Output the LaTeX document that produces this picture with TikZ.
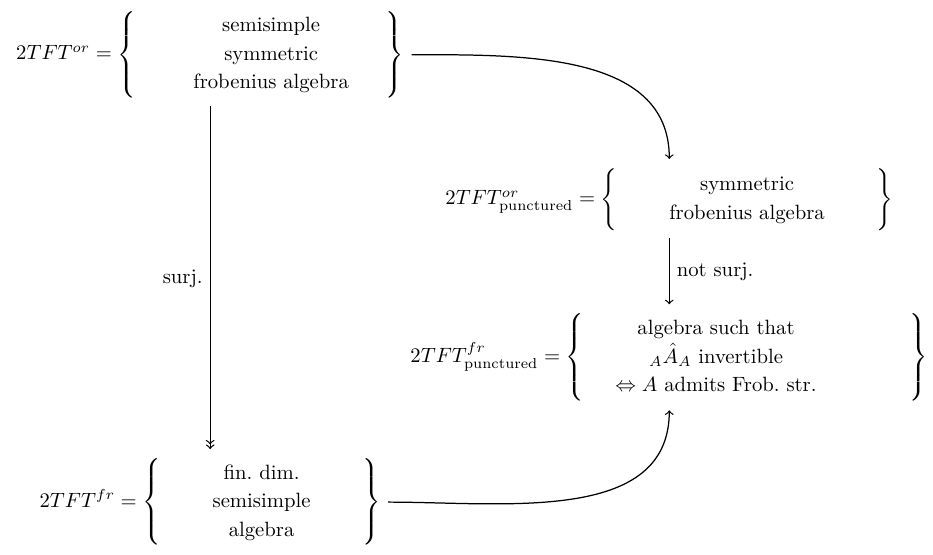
\documentclass[tikz,border=0pt]{standalone}
\usepackage{amsmath,amssymb}
\usetikzlibrary{arrows,positioning}
\renewcommand{\arraystretch}{1.15}

\begin{document}
\begin{tikzpicture}[shorten >=1pt,node distance=2cm,on grid,auto,semithick]
  \useasboundingbox (-3.57,0.93) rectangle (12.28,-8.49);

  \node (or) {$2TFT^{or} = \left\{\qquad\;\begin{array}{c}\text{semisimple}\\ \text{symmetric}\\ \text{frobenius algebra}\end{array}\quad\;\right\}$};
  \node (por) [below right=2.46cm and 7.8cm of or] {$2TFT^{or}_{\text{punctured}} = \left\{\qquad\begin{array}{c}\text{symmetric}\\ \text{frobenius algebra}\end{array}\qquad\right\}$};
  \node (pfr) [below=2.68cm of por] {$2TFT^{fr}_{\text{punctured}} = \left\{\quad\begin{array}{c}\text{algebra such that}\\ {}_A\hat{A}_A\text{ invertible}\\ \Leftrightarrow A\text{ admits Frob.\ str.}\end{array}\hspace{40pt}\right\}$};
  \node (fr) [below=7.6cm of or] {$2TFT^{fr} = \left\{\qquad\begin{array}{c}\text{fin.\ dim.}\\ \text{semisimple}\\ \text{algebra}\end{array}\qquad\right\}$};

 \path[->]
     (or)	edge [->>]	node [swap]	{surj.} (fr)
          edge [out=0,in=90]	 (por)
     (fr)	edge [out=0,in=-90]	 (pfr)
     (por)	edge			node	{not surj.} (pfr)
  ;
\end{tikzpicture}
\end{document}
